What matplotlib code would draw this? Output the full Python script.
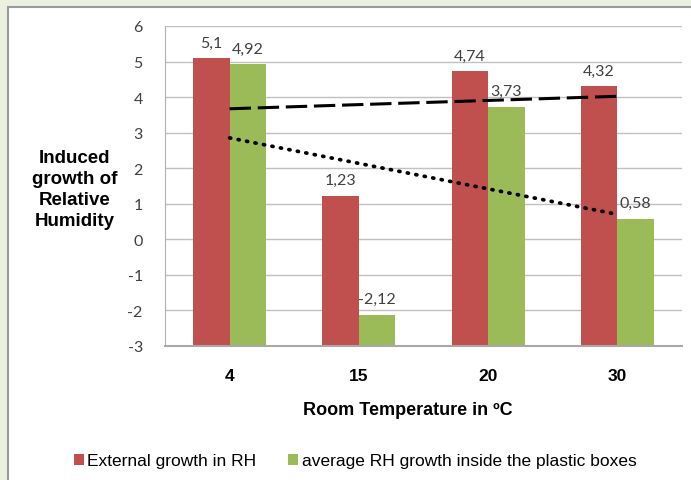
import numpy as np
import matplotlib.pyplot as plt
from matplotlib.patches import Rectangle

# Daten
categories = ["4", "15", "20", "30"]
external = [5.1, 1.23, 4.74, 4.32]
inside = [4.92, -2.12, 3.73, 0.58]
series_names = ["External growth in RH", "average RH growth inside the plastic boxes"]
y_ticks = [-3, -2, -1, 0, 1, 2, 3, 4, 5, 6]

red = "#C0504D"
green = "#9BBB59"
grey_text = "#404040"
arial = ["Liberation Sans", "DejaVu Sans"]
calibri = ["Lato", "DejaVu Sans"]

fig = plt.figure(figsize=(6.91, 4.81), dpi=100)
fig.patch.set_facecolor("#EBF1DE")

# weisses Panel mit grauem Rand
panel = Rectangle((8 / 691, -0.05), 1.0, 1 - 8 / 481 + 0.05, transform=fig.transFigure,
                  facecolor="white", edgecolor="#9A9A9A", linewidth=1.5, zorder=0)
fig.patches.append(panel)

ax = fig.add_axes([165 / 691, 1 - 347 / 481, (682 - 165) / 691, (347 - 27) / 481])
ax.set_facecolor("none")
ax.set_zorder(2)

x = np.arange(len(categories))
w = 0.283
base = y_ticks[0]
ext_vals = np.array(external)
ins_vals = np.array(inside)
ax.bar(x - w / 2, ext_vals - base, w, bottom=base, color=red, zorder=2, label=series_names[0])
ax.bar(x + w / 2, ins_vals - base, w, bottom=base, color=green, zorder=2, label=series_names[1])

# Datenbeschriftungen
for xi, v in zip(x - w / 2, external):
    ax.annotate(str(v).replace(".", ","), (xi, v), xytext=(0, 6), textcoords="offset points",
                ha="center", va="bottom", fontsize=11.5, color=grey_text, family=calibri)
for xi, v in zip(x + w / 2, inside):
    ax.annotate(str(v).replace(".", ","), (xi, v), xytext=(0, 6), textcoords="offset points",
                ha="center", va="bottom", fontsize=11.5, color=grey_text, family=calibri)

# lineare Trendlinien
xs = np.array([0, len(categories) - 1])
p1 = np.polyfit(x, ext_vals, 1)
p2 = np.polyfit(x, ins_vals, 1)
ax.plot(xs, np.polyval(p1, xs), color="black", lw=2.2, linestyle=(0, (7, 2.2)), zorder=3)
ax.plot(xs, np.polyval(p2, xs), color="black", lw=2.7, linestyle=(0, (0.3, 2.0)),
        dash_capstyle="round", zorder=3)

ax.set_xlim(-0.5, len(categories) - 0.5)
ax.set_ylim(y_ticks[0], y_ticks[-1])
ax.set_yticks(y_ticks)
ax.set_yticklabels([str(t) for t in y_ticks], family=calibri, fontsize=11.5, color=grey_text)
ax.set_xticks(x)
ax.set_xticklabels(categories, family=arial, fontsize=12.5, fontweight="bold", color="black")
ax.tick_params(axis="y", length=0, pad=16)
ax.tick_params(axis="x", length=0, pad=16)
ax.grid(axis="y", color="#C0C0C0", lw=1, zorder=1)
ax.set_axisbelow(True)
for s in ["top", "right"]:
    ax.spines[s].set_visible(False)
ax.spines["left"].set_color("#B0B0B0")
ax.spines["bottom"].set_color("#A8A8A8")
ax.spines["bottom"].set_linewidth(1.5)

fig.text(408 / 691, 1 - 411 / 481, "Room Temperature in ºC", ha="center", va="center",
         fontsize=13, fontweight="bold", family=arial)
fig.text(75 / 691, 1 - 190 / 481, "Induced\ngrowth of\nRelative\nHumidity", ha="center",
         va="center", fontsize=13.5, fontweight="bold", family=arial, linespacing=1.3)

fig.legend(loc="center", bbox_to_anchor=(355 / 691, 1 - 462 / 481), ncol=2, frameon=False,
           prop={"family": arial, "size": 12.5}, handlelength=0.6, handleheight=0.6,
           handletextpad=0.2, columnspacing=1.8)

fig.savefig("out.png", dpi=100, facecolor=fig.get_facecolor())
